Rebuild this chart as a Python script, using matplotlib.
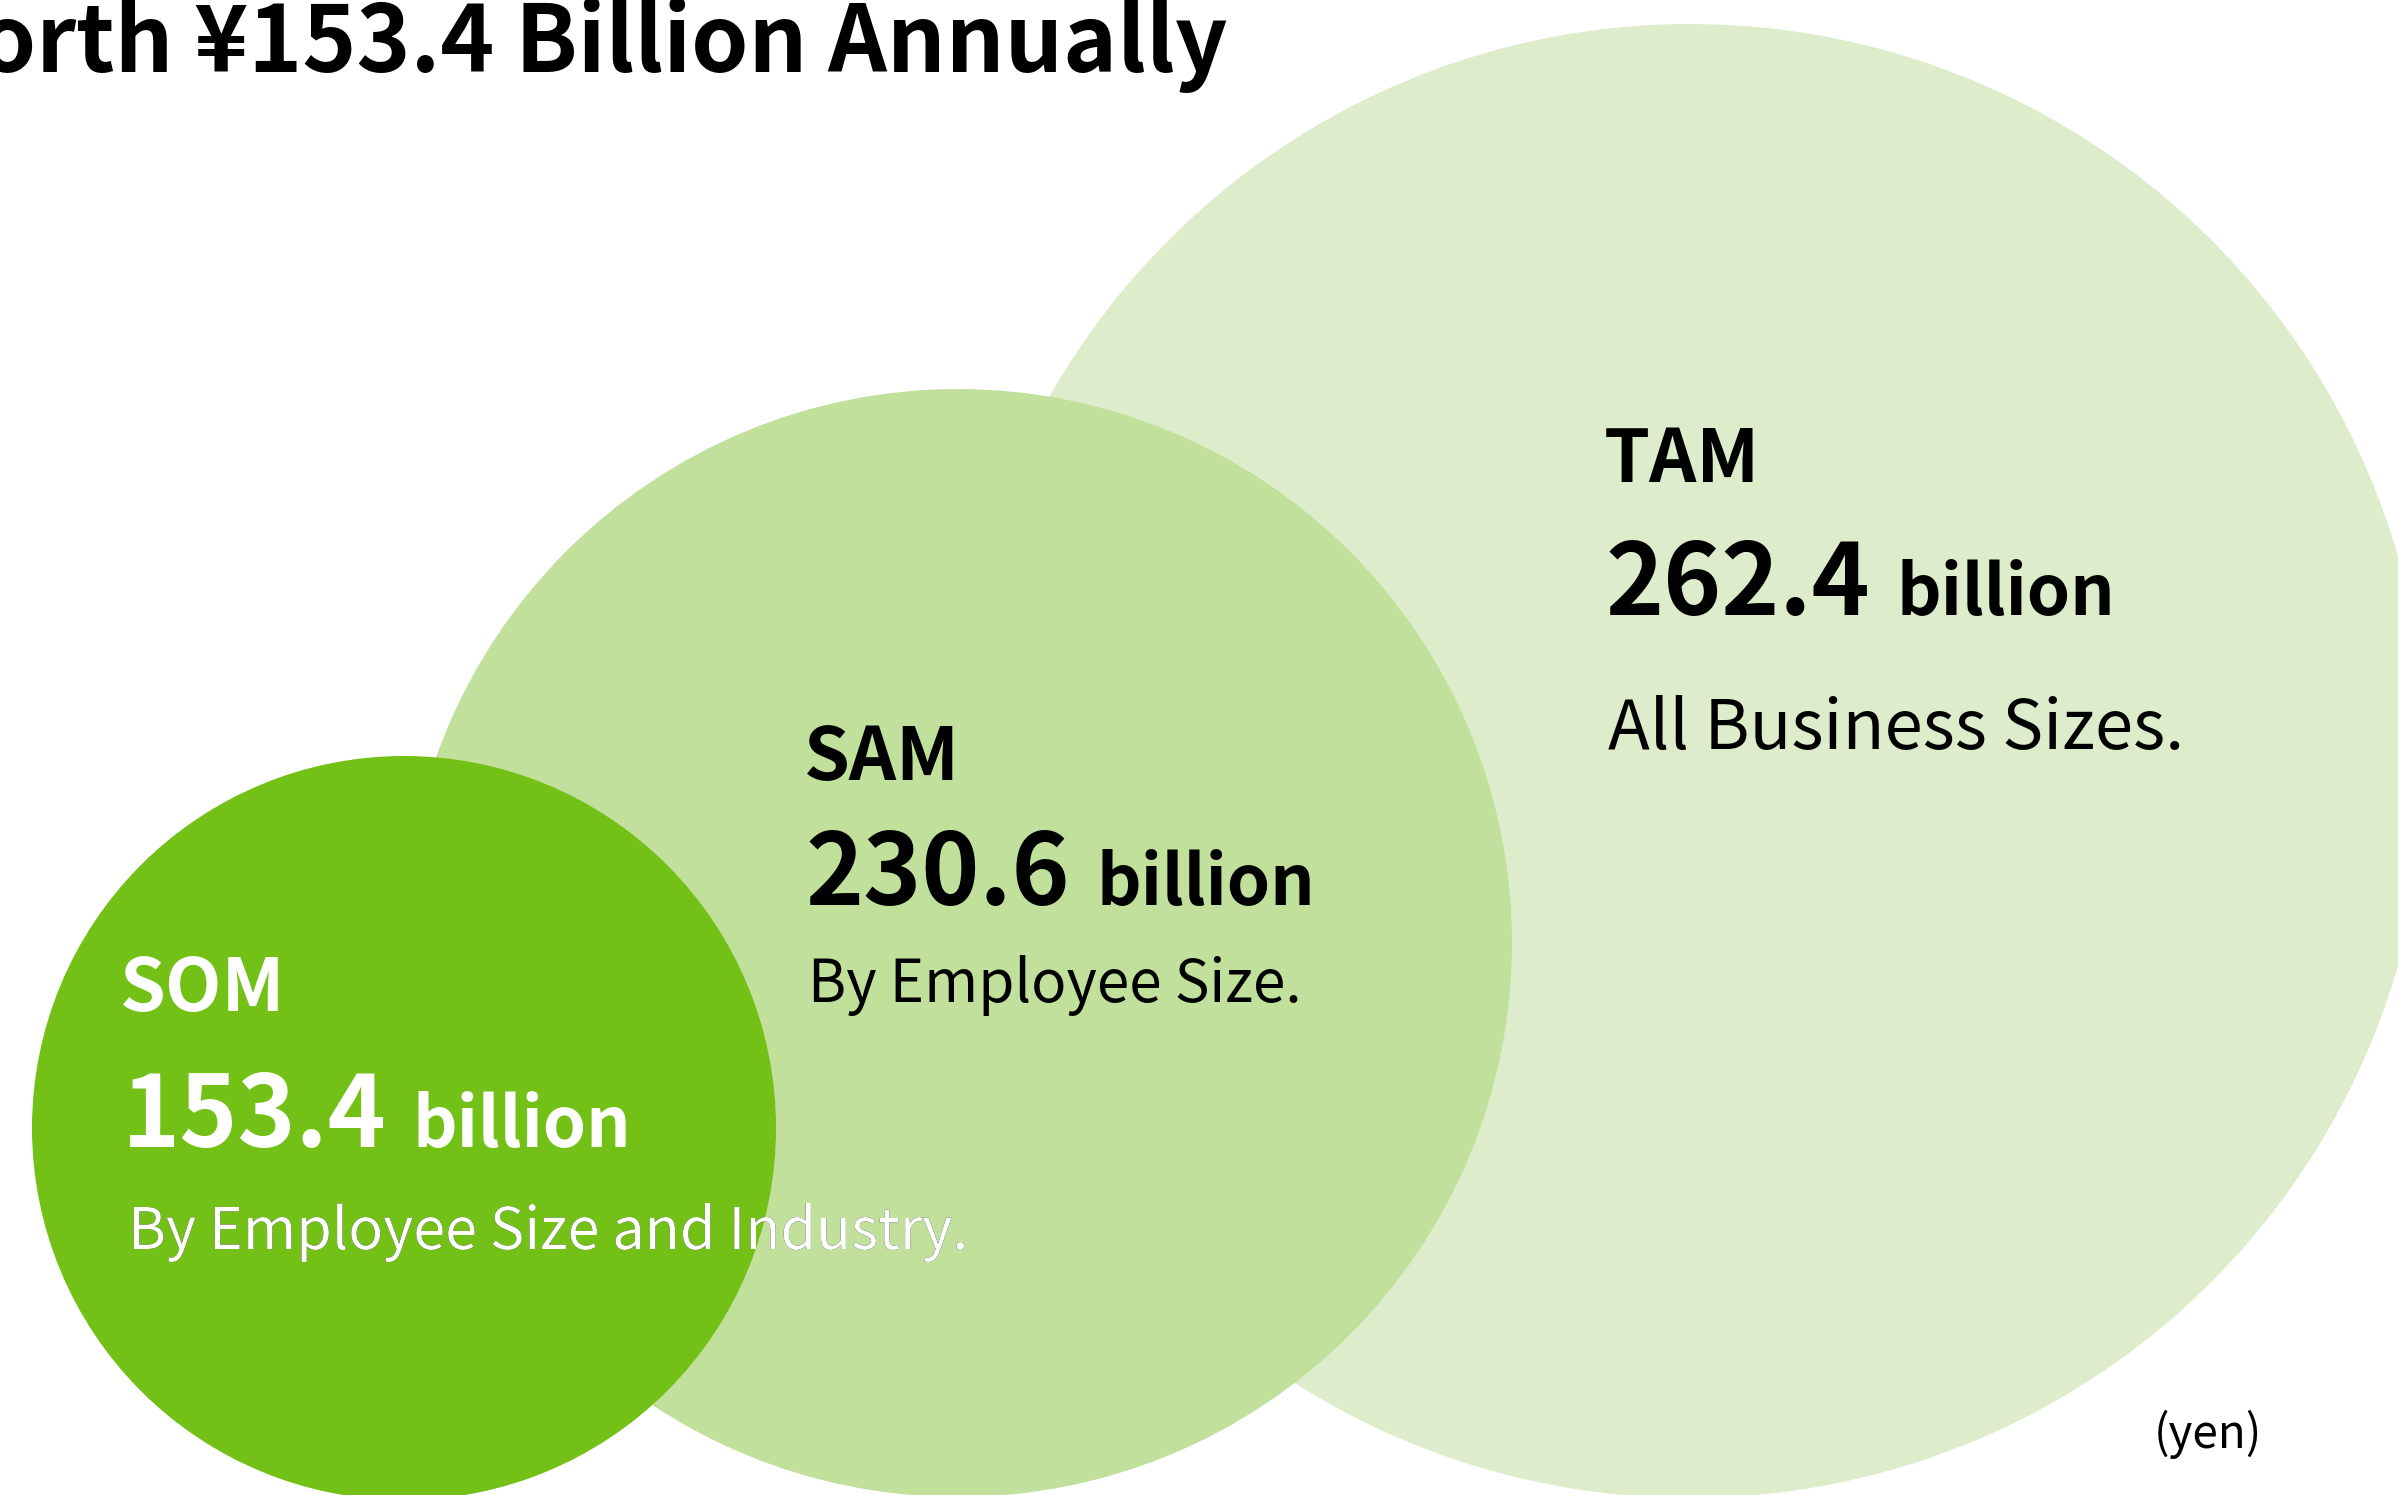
import matplotlib
matplotlib.use('Agg')
import matplotlib.pyplot as plt
from matplotlib.patches import Circle

plt.rcParams['font.family'] = ['Noto Sans CJK JP', 'DejaVu Sans']

# market tiers, largest first
labels = ['TAM', 'SAM', 'SOM']
values = [262.4, 230.6, 153.4]  # billion yen
descriptions = ['All Business Sizes.', 'By Employee Size.', 'By Employee Size and Industry.']
title = 'Target Market Worth ¥{:.1f} Billion Annually'.format(values[2])
unit_note = '(yen)'

W, H = 2398, 1495
fig = plt.figure(figsize=(W / 100, H / 100), dpi=100)
ax = fig.add_axes([0, 0, 1, 1])
ax.set_xlim(0, W)
ax.set_ylim(H, 0)
ax.axis('off')

# circle layout (pixel space)
centers = [(1690, 761), (958, 943), (404, 1128)]
radii = [737, 554, 372]
colors = ['#ddedcb', '#c1e09c', '#73c016']

circles = []
for c, r, col in zip(centers, radii, colors):
    circ = Circle(c, r, facecolor=col, edgecolor='none', zorder=1)
    ax.add_patch(circ)
    circles.append(circ)

# text anchors: (x, label baseline, number baseline, desc baseline)
text_pos = [(1604, 482, 615, 749), (804, 780, 905, 1002), (120, 1011, 1147, 1249)]
label_size = [53, 53, 53]
num_size = [71, 71, 71]
bill_size = [50, 50, 50]
desc_size = [49.5, 42, 41.5]
txt_colors = ['black', 'black', 'white']

fig.canvas.draw()
renderer = fig.canvas.get_renderer()

for i in range(3):
    x, yl, yn, yd = text_pos[i]
    col = txt_colors[i]
    ax.text(x, yl, labels[i], fontsize=label_size[i], fontweight='bold',
            color=col, ha='left', va='baseline', zorder=3)
    num = ax.text(x + 2, yn, '{:.1f}'.format(values[i]), fontsize=num_size[i],
                  fontweight='bold', color=col, ha='left', va='baseline', zorder=3)
    ext = num.get_window_extent(renderer)
    ax.text(ext.x1 + 26, yn, 'billion', fontsize=bill_size[i], fontweight='bold',
            color=col, ha='left', va='baseline', zorder=3)
    if i == 2:
        # black where the text runs past the SOM circle, white inside it
        ax.text(x + 8, yd, descriptions[i], fontsize=desc_size[i], color='black',
                ha='left', va='baseline', zorder=3)
        inner = ax.text(x + 8, yd, descriptions[i], fontsize=desc_size[i], color='white',
                        ha='left', va='baseline', zorder=4)
        inner.set_clip_path(circles[2])
    else:
        ax.text(x + 4, yd, descriptions[i], fontsize=desc_size[i], color=col,
                ha='left', va='baseline', zorder=3)

ax.text(1228, 72, title, fontsize=66, fontweight='bold', color='black',
        ha='right', va='baseline', zorder=3)
ax.text(2262, 1448, unit_note, fontsize=33, color='black',
        ha='right', va='baseline', zorder=3)

fig.savefig('out.png', dpi=100)
